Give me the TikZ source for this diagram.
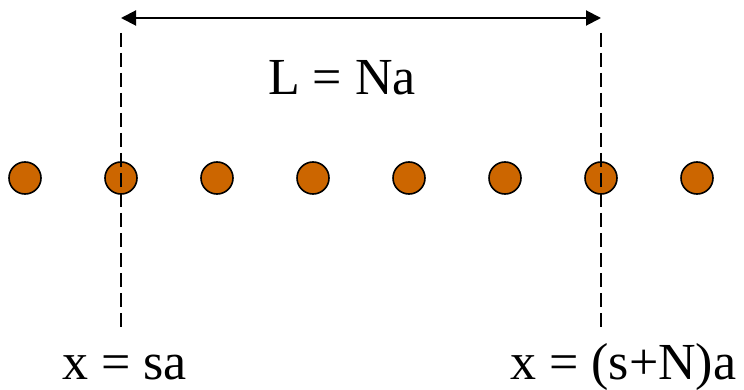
\documentclass[tikz,border=0pt]{standalone}
\usepackage{fontspec}
\setmainfont{Liberation Serif}
\usetikzlibrary{arrows.meta}
\definecolor{atomfill}{RGB}{204,102,0}
\tikzset{
  atom/.style={circle, draw=black, line width=1.6pt, fill=atomfill, minimum size=32pt, inner sep=0pt},
  guide/.style={draw=black, line width=1.5pt, dash pattern=on 14pt off 6pt},
  span/.style={draw=black, line width=2pt, {Triangle[length=15pt,width=15pt]}-{Triangle[length=15pt,width=15pt]}},
  lbl/.style={inner sep=0pt, font=\fontsize{52}{60}\selectfont}
}
\begin{document}
\begin{tikzpicture}[x=1pt,y=-1pt]
\useasboundingbox (0,0) rectangle (744,390);
\foreach \i/\x in {1/25,2/121,3/217,4/313,5/409,6/505,7/601,8/697}{
  \node[atom] (c\i) at (\x,178) {};
}
\coordinate (lt) at (121,33);
\coordinate (lb) at (121,328);
\coordinate (rt) at (601,33);
\coordinate (rb) at (601,328);
\draw[guide] (lt) -- (lb);
\draw[guide] (rt) -- (rb);
\coordinate (al) at (121,18);
\coordinate (ar) at (601,18);
\draw[span] (al) -- (ar);
\node[lbl, anchor=base west] (len) at (268,95) {L = Na};
\node[lbl, anchor=base west] (xs) at (62,379) {x = sa};
\node[lbl, anchor=base west] (xsn) at (510,379) {x = (s+N)a};
\end{tikzpicture}
\end{document}
